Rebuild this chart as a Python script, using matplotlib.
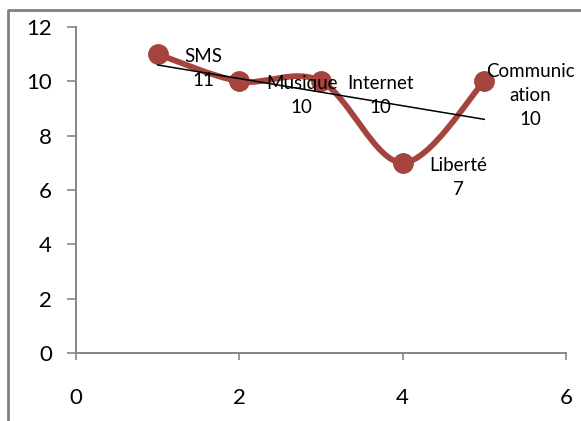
import matplotlib
matplotlib.use("Agg")
import matplotlib.pyplot as plt
import numpy as np
from matplotlib.path import Path
from matplotlib.patches import PathPatch
from matplotlib.lines import Line2D

plt.rcParams['font.family'] = ['Lato', 'DejaVu Sans']

# data
x_vals = [1, 2, 3, 4, 5]
y_vals = [11, 10, 10, 7, 10]
names = ["SMS", "Musique", "Internet", "Liberté", "Communic\nation"]

LINE_RED = '#A5433F'
AXIS_GREY = '#868686'
FRAME_GREY = '#808080'


def smooth_path(xs, ys):
    """Excel-like smoothed line: cubic Bezier segments (Catmull-Rom control points)."""
    pts = np.column_stack([xs, ys]).astype(float)
    n = len(pts)
    verts = [pts[0]]
    codes = [Path.MOVETO]
    for i in range(n - 1):
        p_prev = pts[max(i - 1, 0)]
        p0, p1 = pts[i], pts[i + 1]
        p_next = pts[min(i + 2, n - 1)]
        c1 = p0 + (p1 - p_prev) / 6.0
        c2 = p1 - (p_next - p0) / 6.0
        verts += [c1, c2, p1]
        codes += [Path.CURVE4] * 3
    return Path(verts, codes)


fig = plt.figure(figsize=(5.81, 4.21), dpi=100)
ax = fig.add_axes([0.131, 0.1615, 0.843, 0.7745])

# chart frame (cut off at right/bottom like the original)
fx, fy = 8 / 581, 1 - 10 / 421
fig.add_artist(Line2D([fx, fx, 1], [0, fy, fy], transform=fig.transFigure,
                      color=FRAME_GREY, linewidth=2.0, zorder=10))

# smoothed series
ax.add_patch(PathPatch(smooth_path(x_vals, y_vals), facecolor='none',
                       edgecolor=LINE_RED, linewidth=4.2, capstyle='round',
                       joinstyle='round', zorder=3))
ax.plot(x_vals, y_vals, linestyle='none', marker='o', markersize=14,
        color=LINE_RED, zorder=4)

# linear trendline
slope, intercept = np.polyfit(x_vals, y_vals, 1)
tx = np.array([min(x_vals), max(x_vals)])
ax.plot(tx, slope * tx + intercept, color='black', linewidth=1.1, zorder=5)

# data labels (last one is pushed left against the chart edge)
for i, (x, y, name) in enumerate(zip(x_vals, y_vals, names)):
    dx = 1 if i == len(x_vals) - 1 else 19
    ax.annotate(f"{name}\n{y}", (x, y), xytext=(dx, -10.5),
                textcoords='offset points', ha='left', va='center',
                multialignment='center', fontsize=13.5, linespacing=1.5,
                zorder=6, annotation_clip=False)

ax.set_xlim(0, 6)
ax.set_ylim(0, 12)
ax.set_xticks(range(0, 7, 2))
ax.set_yticks(range(0, 13, 2))
for side in ('top', 'right'):
    ax.spines[side].set_visible(False)
for side in ('left', 'bottom'):
    ax.spines[side].set_color(AXIS_GREY)
    ax.spines[side].set_linewidth(1.4)
ax.tick_params(axis='y', direction='out', length=6.5, width=1.2,
               color=AXIS_GREY, labelsize=16, pad=11)
ax.tick_params(axis='x', direction='out', length=5, width=1.2,
               color=AXIS_GREY, labelsize=16, pad=20)

fig.savefig("out.png", dpi=100)
